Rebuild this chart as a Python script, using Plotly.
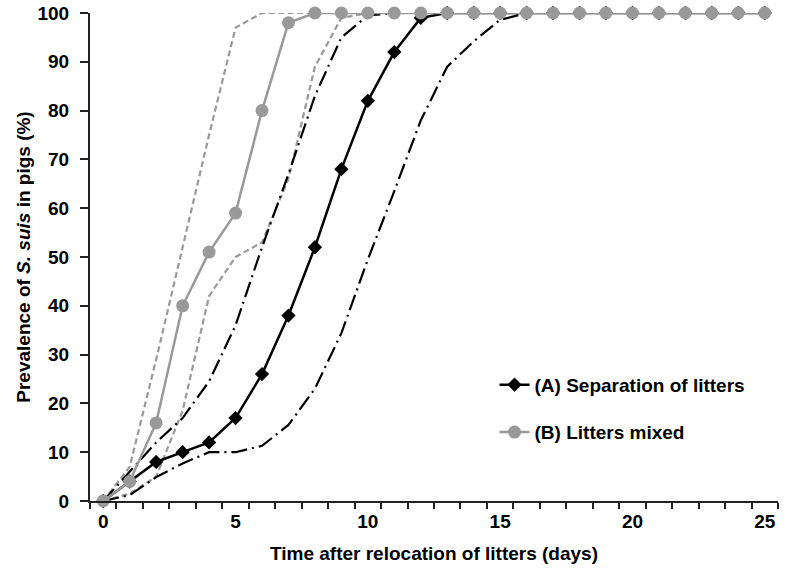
import plotly.graph_objects as go

days = list(range(0, 26))

# (A) Separation of litters: mean and confidence bounds
sep_mean = [0, 4, 8, 10, 12, 17, 26, 38, 52, 68, 82, 92, 99, 100, 100, 100, 100, 100, 100, 100, 100, 100, 100, 100, 100, 100]
sep_upper = [0, 6, 12, 17, 24.5, 36, 52, 67, 83, 95, 99.5, 100, 100, 100, 100, 100, 100, 100, 100, 100, 100, 100, 100, 100, 100, 100]
sep_lower = [0, 1.2, 4.9, 7.7, 10, 10, 11.3, 15.6, 23, 34.4, 49.5, 63.5, 78, 89, 94.2, 98.6, 100, 100, 100, 100, 100, 100, 100, 100, 100, 100]

# (B) Litters mixed: mean and confidence bounds
mix_mean = [0, 4, 16, 40, 51, 59, 80, 98, 100, 100, 100, 100, 100, 100, 100, 100, 100, 100, 100, 100, 100, 100, 100, 100, 100, 100]
mix_upper = [0, 7, 29, 52, 75, 97, 100, 100, 100, 100, 100, 100, 100, 100, 100, 100, 100, 100, 100, 100, 100, 100, 100, 100, 100, 100]
mix_lower = [0, 1.5, 5, 18.5, 42, 50, 53, 66, 89, 99, 100, 100, 100, 100, 100, 100, 100, 100, 100, 100, 100, 100, 100, 100, 100, 100]

x_tick_vals = [0, 5, 10, 15, 20, 25]
y_tick_vals = [0, 10, 20, 30, 40, 50, 60, 70, 80, 90, 100]

GRAY = "#999999"
BLACK = "#000000"
DASHDOT = "16px,5px,2px,5px"
FONT = "Liberation Sans, Arial, sans-serif"

fig = go.Figure()

for ys in (mix_upper, mix_lower):
    fig.add_trace(go.Scatter(x=days, y=ys, mode="lines", showlegend=False, hoverinfo="skip",
                             line=dict(color=GRAY, width=2.2, dash="6px,3.5px"), cliponaxis=False))
for ys in (sep_upper, sep_lower):
    fig.add_trace(go.Scatter(x=days, y=ys, mode="lines", showlegend=False, hoverinfo="skip",
                             line=dict(color=BLACK, width=2.2, dash=DASHDOT), cliponaxis=False))

fig.add_trace(go.Scatter(x=days, y=sep_mean, mode="lines+markers", name="(A) Separation of litters",
                         line=dict(color=BLACK, width=2.5),
                         marker=dict(symbol="diamond", size=11, color=BLACK),
                         cliponaxis=False, legend="legend"))
fig.add_trace(go.Scatter(x=days, y=mix_mean, mode="lines+markers", name="(B) Litters mixed",
                         line=dict(color=GRAY, width=2.5),
                         marker=dict(symbol="circle", size=13, color=GRAY),
                         cliponaxis=False, legend="legend2"))

fig.update_layout(
    width=786, height=579,
    margin=dict(l=90, r=8, t=13, b=78, autoexpand=False),
    plot_bgcolor="white", paper_bgcolor="white",
    font=dict(family=FONT, size=19, color="black", weight="bold"),
    xaxis=dict(range=[-0.5, 25.5], tickvals=x_tick_vals, ticktext=[str(v) for v in x_tick_vals],
               ticks="", showgrid=False, zeroline=False, automargin=False,
               showline=True, linecolor="#222222", linewidth=2, ticklabelstandoff=2,
               minor=dict(tick0=0.5, dtick=1, ticks="outside", ticklen=6, tickwidth=1.5, tickcolor="#222222", showgrid=False),
               tickfont=dict(size=19),
               title=dict(text="Time after relocation of litters (days)", font=dict(size=19), standoff=16)),
    yaxis=dict(range=[0, 100], tickvals=y_tick_vals, ticks="outside", ticklen=8, tickwidth=1.5,
               tickcolor="#222222", showgrid=False, zeroline=False, automargin=False,
               showline=True, linecolor="#222222", linewidth=2, ticklabelstandoff=7,
               tickfont=dict(size=19),
               title=dict(text="Prevalence of <i>S. suis</i> in pigs (%)", font=dict(size=19), standoff=2)),
    legend=dict(x=0.588, y=0.238, xanchor="left", yanchor="middle", bgcolor="rgba(0,0,0,0)",
                font=dict(size=19), itemwidth=30),
    legend2=dict(x=0.588, y=0.141, xanchor="left", yanchor="middle", bgcolor="rgba(0,0,0,0)",
                 font=dict(size=19), itemwidth=30),
)

fig.write_html("out.html", config={"displayModeBar": False},
               post_script="document.body.style.margin='0';")
